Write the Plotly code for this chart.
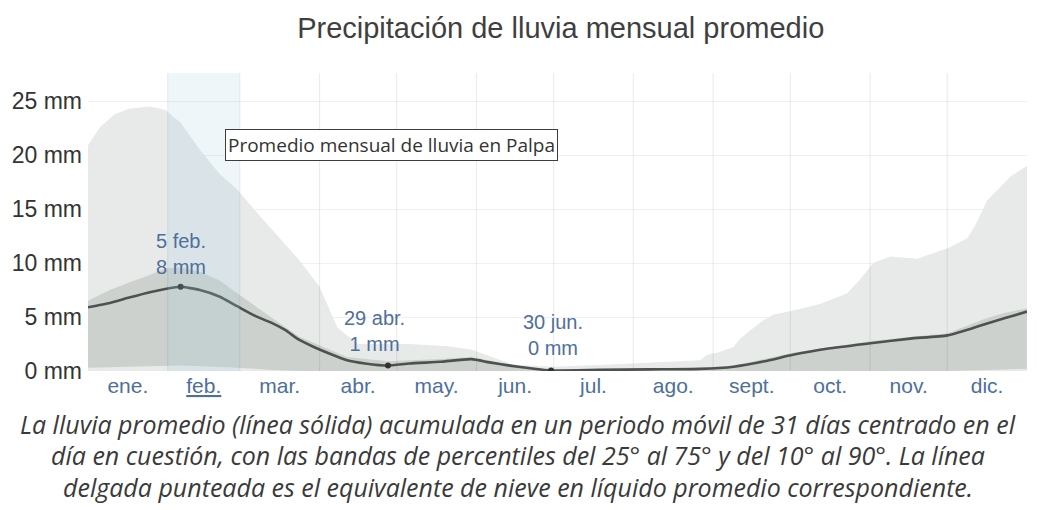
import plotly.graph_objects as go

# ---------------- data ----------------
month_labels = ["ene.", "<u>feb.</u>", "mar.", "abr.", "may.", "jun.", "jul.", "ago.", "sept.", "oct.", "nov.", "dic."]
month_days = [31, 28, 31, 30, 31, 30, 31, 31, 30, 31, 30, 31]

# mean rainfall (31-day moving), day of year -> mm
mean_day = [0, 8.5, 16, 24, 30, 36, 43.5, 51, 58, 65, 71, 76.6, 82, 88, 94, 100.7, 107.7, 116.6, 125, 137, 149,
            156, 164, 172, 180, 199, 218.5, 238, 251, 263, 274, 288.5, 305, 319.6, 334, 343, 349.5, 356.5, 365]
mean_mm = [5.9, 6.3, 6.8, 7.3, 7.6, 7.8, 7.5, 6.9, 6.0, 5.1, 4.5, 3.8, 2.9, 2.2, 1.6, 1.0, 0.7, 0.5, 0.7, 0.85, 1.1,
           0.8, 0.5, 0.25, 0.05, 0.1, 0.15, 0.2, 0.4, 0.9, 1.5, 2.1, 2.6, 3.0, 3.3, 3.9, 4.4, 4.9, 5.5]

# 90th percentile
p90_day = [0, 4.7, 10.5, 16, 24, 30, 36, 43.5, 51, 58, 67, 78.5, 82, 90, 97, 105, 125, 140, 149, 165, 180, 199,
           218.5, 238, 240.7, 244.6, 250.8, 253.5, 261.3, 266.3, 274.1, 284.6, 295.1, 300.2, 305.2, 311.8, 322.3,
           334.4, 341.8, 344.9, 349.5, 358.5, 365]
p90_mm = [20.9, 22.6, 23.8, 24.3, 24.5, 24.2, 23.0, 20.5, 18.3, 16.8, 14.3, 11.2, 10.3, 7.8, 4.0, 2.5, 2.5, 2.3, 2.0,
          0.6, 0.4, 0.55, 0.8, 1.0, 1.5, 1.7, 2.2, 3.0, 4.5, 5.2, 5.6, 6.2, 7.2, 8.5, 10.0, 10.6, 10.4,
          11.4, 12.3, 13.5, 15.8, 18.0, 19.0]

# 25th / 75th percentile
p_day = [0, 8.5, 16, 24, 30, 36, 43.5, 51, 58, 65, 71, 82, 88, 100.7, 116.6, 137, 149, 164, 180, 199, 238,
         251, 274, 305, 334, 349.5, 356.5, 365]
p75_mm = [6.5, 7.5, 8.2, 8.9, 9.5, 9.6, 9.2, 8.4, 7.2, 6.0, 5.0, 3.2, 2.6, 1.3, 0.9, 1.1, 1.3, 0.6, 0.1, 0.15, 0.3,
          0.5, 1.7, 2.8, 3.5, 4.9, 5.4, 5.8]
p25_mm = [0.3, 0.35, 0.4, 0.45, 0.5, 0.5, 0.45, 0.4, 0.3, 0.2, 0.1, 0, 0, 0, 0, 0, 0, 0, 0, 0, 0,
          0, 0, 0, 0, 0.1, 0.15, 0.2]

# highlighted values
hl_day = [36, 116.6, 180]
hl_mm = [7.8, 0.5, 0.05]
hl_text = ["5 feb.<br>8 mm", "29 abr.<br>1 mm", "30 jun.<br>0 mm"]

y_ticks = [0, 5, 10, 15, 20, 25]
y_tick_text = ["0 mm", "5 mm", "10 mm", "15 mm", "20 mm", "25 mm"]

# ---------------- derived ----------------
bounds = [0]
for d in month_days:
    bounds.append(bounds[-1] + d)
mids = [(bounds[i] + bounds[i + 1]) / 2 for i in range(12)]

Y_TOP = 27.6
LIGHT = "#e7eae9"
DARK = "#cdd1ce"
LINE = "#4d524f"
BLUE = "#4e6f9c"

fig = go.Figure()

# 10-90 band (10th ~ 0)
fig.add_trace(go.Scatter(x=p90_day, y=[0] * len(p90_day), mode="lines", line=dict(width=0),
                         hoverinfo="skip", showlegend=False))
fig.add_trace(go.Scatter(x=p90_day, y=p90_mm, mode="lines", line=dict(width=0), fill="tonexty",
                         fillcolor=LIGHT, hoverinfo="skip", showlegend=False))
# 25-75 band
fig.add_trace(go.Scatter(x=p_day, y=p25_mm, mode="lines", line=dict(width=0),
                         hoverinfo="skip", showlegend=False))
fig.add_trace(go.Scatter(x=p_day, y=p75_mm, mode="lines", line=dict(width=0), fill="tonexty",
                         fillcolor=DARK, hoverinfo="skip", showlegend=False))

# month boundary grid lines drawn over the bands
gx, gy = [], []
for b in bounds[1:-1]:
    gx += [b, b, None]
    gy += [0, Y_TOP, None]
fig.add_trace(go.Scatter(x=gx, y=gy, mode="lines", line=dict(color="rgba(0,0,0,0.07)", width=1.2),
                         hoverinfo="skip", showlegend=False))

# mean line
fig.add_trace(go.Scatter(x=mean_day, y=mean_mm, mode="lines", line=dict(color=LINE, width=2.6, shape="spline",
                         smoothing=0.5), hoverinfo="skip", showlegend=False))
fig.add_trace(go.Scatter(x=hl_day, y=hl_mm, mode="markers", marker=dict(color="#2f3330", size=6),
                         hoverinfo="skip", showlegend=False))

# February highlight column
fig.add_shape(type="rect", xref="x", yref="y", x0=bounds[1], x1=bounds[2], y0=0, y1=Y_TOP,
              fillcolor="rgba(160,205,225,0.18)", line=dict(width=0), layer="above")

# point labels
shifts = [(0, 7), (-13, 9), (2, 9)]
for d, v, t, (xs, ys) in zip(hl_day, hl_mm, hl_text, shifts):
    fig.add_annotation(x=d, y=v, text=t, showarrow=False, xanchor="center", yanchor="bottom",
                       xshift=xs, yshift=ys,
                       font=dict(family="Liberation Sans, Arial", size=20, color=BLUE))

# tooltip-like box
fig.add_annotation(xref="paper", yref="paper", x=0.323, y=0.757, xanchor="center", yanchor="middle",
                   text="Promedio mensual de lluvia en Palpa",
                   showarrow=False, bgcolor="white", bordercolor="#3c3c3c", borderwidth=1, borderpad=2,
                   font=dict(family="Open Sans", size=19, color="#333"))

# caption
caption = [
    "La lluvia promedio (línea sólida) acumulada en un periodo móvil de 31 días centrado en el",
    "día en cuestión, con las bandas de percentiles del 25° al 75° y del 10° al 90°. La línea",
    "delgada punteada es el equivalente de nieve en líquido promedio correspondiente.",
]
for i, line in enumerate(caption):
    fig.add_annotation(xref="paper", yref="paper", x=0.458, y=-0.178 - 0.105 * i, text=f"<i>{line}</i>",
                       showarrow=False, xanchor="center", yanchor="middle",
                       font=dict(family="Open Sans", size=25, color="#3a3a3a"))

# (page body has an 8px default margin; margins compensate so the plot sits at 88..1027 x 73..371)
fig.update_layout(
    width=1037, height=510,
    margin=dict(l=80, r=18, t=65, b=147),
    paper_bgcolor="white", plot_bgcolor="white",
    title=dict(text="Precipitación de lluvia mensual promedio", x=0.533, y=0.961, xanchor="center",
               yanchor="middle", font=dict(family="Liberation Sans, Arial", size=29, color="#3f3f3f")),
    xaxis=dict(range=[0, 365], tickvals=mids, ticktext=month_labels, showgrid=False, zeroline=False,
               showline=False, ticks="", automargin=False,
               tickfont=dict(family="Liberation Sans, Arial", size=21, color=BLUE)),
    yaxis=dict(range=[0, Y_TOP], tickvals=y_ticks, ticktext=y_tick_text, showgrid=True, gridcolor="#f0f0f0",
               zeroline=False, showline=False, ticks="", automargin=False, ticklabelstandoff=5,
               tickfont=dict(family="Liberation Sans, Arial", size=23, color="#333")),
    showlegend=False,
)

fig.write_html("out.html")
